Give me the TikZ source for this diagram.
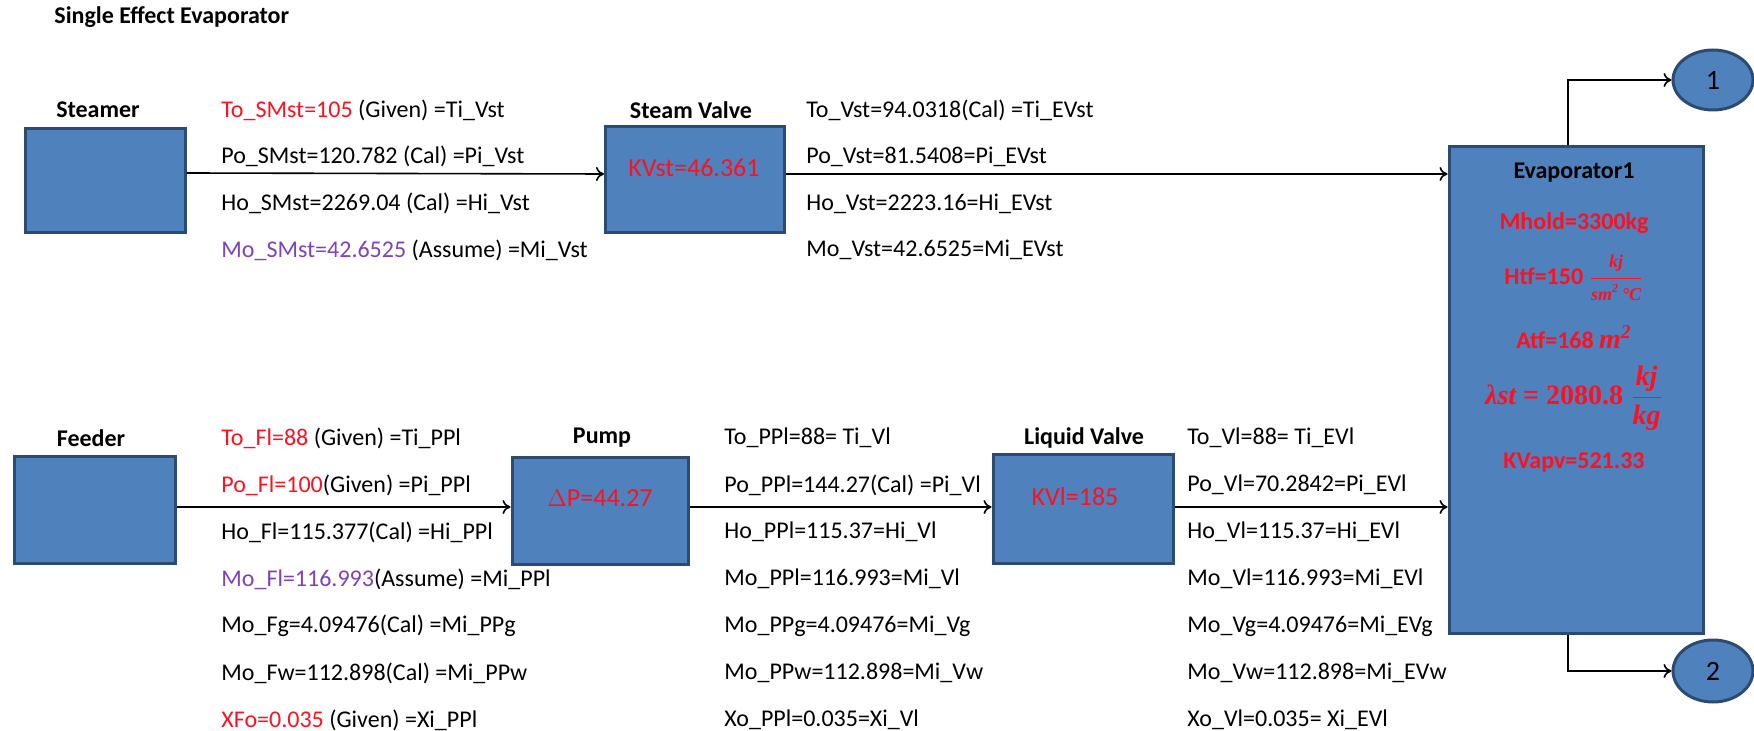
\documentclass[tikz,border=0pt]{standalone}
\usepackage{amsmath}
\usepackage{fontspec}
\setmainfont{Carlito}
\newfontfamily\serifbi{Liberation Serif}
\usepackage{tikz}
\usetikzlibrary{arrows.meta, positioning, shapes.geometric}
\definecolor{boxblue}{HTML}{4F81BD}
\definecolor{boxline}{HTML}{2C4B72}
\definecolor{txtred}{HTML}{FF1020}
\definecolor{txtpurple}{HTML}{7E42BC}
\newcommand{\redtxt}[1]{\textcolor{txtred}{#1}}
\newcommand{\purtxt}[1]{\textcolor{txtpurple}{#1}}
\newcommand{\mbi}[1]{\text{\serifbi\bfseries\itshape #1}}
\newcommand{\smbi}[1]{\text{\fontsize{9}{10}\selectfont\serifbi\bfseries\itshape #1}}

\tikzset{
	unit/.style={draw=boxline, fill=boxblue, line width=1.5pt, inner sep=0pt},
	outlet/.style={unit, ellipse, font=\fontsize{14}{16}\selectfont},
	txt/.style={anchor=west, inner sep=0pt, font=\fontsize{12}{14}\selectfont},
	lbl/.style={inner sep=0pt, font=\fontsize{12}{14}\selectfont\bfseries},
	val/.style={inner sep=0pt, text=txtred, font=\fontsize{13}{15}\selectfont},
	evtxt/.style={inner sep=0pt, text=txtred, font=\fontsize{12}{14}\selectfont\bfseries},
	bigmath/.style={evtxt, font=\fontsize{14}{16}\selectfont\serifbi\bfseries},
	flow/.style={->, line width=0.8pt},
	>={To[length=4pt, width=7pt]}
}

\begin{document}
\begin{tikzpicture}[x=0.5pt, y=-0.5pt]
		\useasboundingbox (0,0) rectangle (1754,731);
		\node[lbl, anchor=west] (title) at (54,17) {Single Effect Evaporator};
		
		% units
		\node[unit, minimum width=80pt, minimum height=52pt] (steamer) at (105,181) {};
		\node[unit, minimum width=89.5pt, minimum height=53pt] (svalve) at (695,180) {};
		\node[unit, minimum width=80.5pt, minimum height=53pt] (feeder) at (95,510) {};
		\node[unit, minimum width=88pt, minimum height=53.5pt] (pump) at (600,511) {};
		\node[unit, minimum width=90pt, minimum height=54pt] (lvalve) at (1083,509) {};
		\node[unit, minimum width=127pt, minimum height=243.5pt] (evap) at (1576,390) {};
		\node[outlet, minimum width=40pt, minimum height=30pt] (out1) at (1713,80) {1};
		\node[outlet, minimum width=40pt, minimum height=31pt] (out2) at (1713,671) {2};
		
		% labels:
		\node[lbl] (lsteamer) at (98,110) {Steamer};
		\node[lbl] (lsvalve) at (691,110) {Steam Valve};
		\node[lbl] (lfeeder) at (91,438) {Feeder};
		\node[lbl] (lpump) at (602,438) {Pump};
		\node[lbl] (llvalve) at (1084,438) {Liquid Valve};
		\node[val] (kvst) at (694,168) {KVst=46.361};
		\node[val] (dp) at (600,498) {$\Delta$P=44.27};
		\node[val] (kvl) at (1075,497) {KVl=185};
		
		% evaporator data
		\node[lbl] (levap) at (1574,173) {Evaporator1};
		\node[evtxt] (mhold) at (1574,223) {Mhold=3300kg};
		\node[evtxt] (htf) at (1574,278) {Htf=150 $\dfrac{\smbi{kj}}{\smbi{sm\textsuperscript{2}\,°C}}$};
		\node[evtxt] (atf) at (1574,337) {Atf=168 {\fontsize{14}{16}\selectfont\serifbi\itshape m\textsuperscript{2}}};
		\node[bigmath] (lamst) at (1574,398) {{\itshape λst} = 2080.8 $\dfrac{\mbi{kj}}{\mbi{kg}}$};
		\node[evtxt] (kvapv) at (1574,463) {KVapv=521.33};
		
		% stream data
		\foreach \t [count=\i] in {{\redtxt{To\_SMst=105} (Given) =Ti\_Vst},
				{Po\_SMst=120.782 (Cal) =Pi\_Vst},
				{Ho\_SMst=2269.04 (Cal) =Hi\_Vst},
				{\purtxt{Mo\_SMst=42.6525} (Assume) =Mi\_Vst}}{
			\node[txt] (sm\i) at (221,{110+46.7*(\i-1)}) {\t};
		}
		\foreach \t [count=\i] in {{To\_Vst=94.0318(Cal) =Ti\_EVst},
				{Po\_Vst=81.5408=Pi\_EVst},
				{Ho\_Vst=2223.16=Hi\_EVst},
				{Mo\_Vst=42.6525=Mi\_EVst}}{
			\node[txt] (sv\i) at (806,{110+46.7*(\i-1)}) {\t};
		}
		\foreach \t [count=\i] in {{\redtxt{To\_Fl=88} (Given) =Ti\_PPl},
				{\redtxt{Po\_Fl=100}(Given) =Pi\_PPl},
				{Ho\_Fl=115.377(Cal) =Hi\_PPl},
				{\purtxt{Mo\_Fl=116.993}(Assume) =Mi\_PPl},
				{Mo\_Fg=4.09476(Cal) =Mi\_PPg},
				{Mo\_Fw=112.898(Cal) =Mi\_PPw},
				{\redtxt{XFo=0.035} (Given) =Xi\_PPl}}{
			\node[txt] (fl\i) at (221,{438+47*(\i-1)}) {\t};
		}
		\foreach \t [count=\i] in {{To\_PPl=88= Ti\_Vl},
				{Po\_PPl=144.27(Cal) =Pi\_Vl},
				{Ho\_PPl=115.37=Hi\_Vl},
				{Mo\_PPl=116.993=Mi\_Vl},
				{Mo\_PPg=4.09476=Mi\_Vg},
				{Mo\_PPw=112.898=Mi\_Vw},
				{Xo\_PPl=0.035=Xi\_Vl}}{
			\node[txt] (pp\i) at (724,{438+47*(\i-1)}) {\t};
		}
		\foreach \t [count=\i] in {{To\_Vl=88= Ti\_EVl},
				{Po\_Vl=70.2842=Pi\_EVl},
				{Ho\_Vl=115.37=Hi\_EVl},
				{Mo\_Vl=116.993=Mi\_EVl},
				{Mo\_Vg=4.09476=Mi\_EVg},
				{Mo\_Vw=112.898=Mi\_EVw},
				{Xo\_Vl=0.035= Xi\_EVl}}{
			\node[txt] (vl\i) at (1187,{438+47*(\i-1)}) {\t};
		}
		
		% flows
		\draw[flow] ([yshift=4pt]steamer.east) -- ([yshift=3pt]svalve.west);
		\draw[flow] ([yshift=3pt]svalve.east) -- ([yshift=3pt]svalve.east -| evap.west);
		\draw[flow] ([yshift=1.5pt]feeder.east) -- ([yshift=2pt]pump.west);
		\draw[flow] ([yshift=2pt]pump.east) -- ([yshift=1pt]lvalve.west);
		\draw[flow] ([yshift=1pt]lvalve.east) -- ([yshift=1pt]lvalve.east -| evap.west);
		% outlets
		\draw[flow] ([xshift=-4pt]evap.north) |- (out1);
		\draw[flow] ([xshift=-4pt]evap.south) |- (out2);
	\end{tikzpicture}
\end{document}
